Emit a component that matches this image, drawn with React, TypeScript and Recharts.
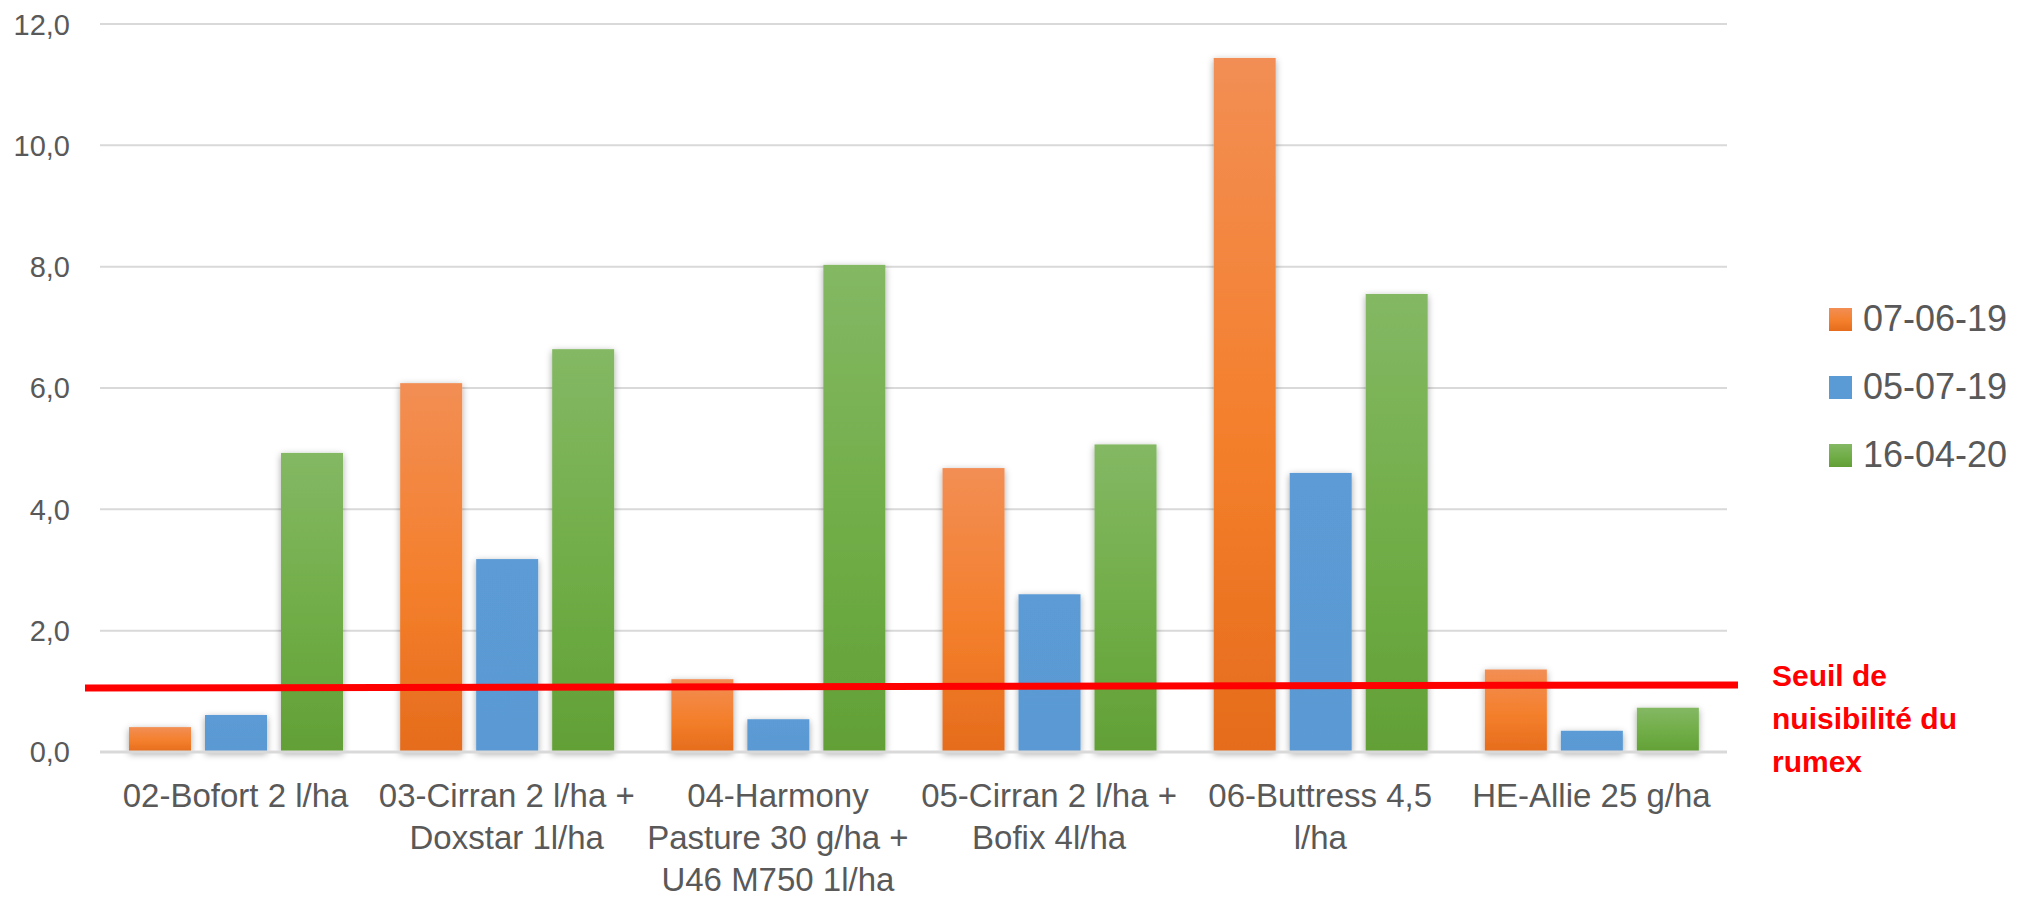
import React from 'react';
import { BarChart, Bar, XAxis, YAxis, CartesianGrid, Legend, ReferenceLine } from 'recharts';

const categories = [
  '02-Bofort 2 l/ha',
  '03-Cirran 2 l/ha + Doxstar 1l/ha',
  '04-Harmony Pasture 30 g/ha + U46 M750 1l/ha',
  '05-Cirran 2 l/ha + Bofix 4l/ha',
  '06-Buttress 4,5 l/ha',
  'HE-Allie 25 g/ha',
];
const tickLines = [
  ['02-Bofort 2 l/ha'],
  ['03-Cirran 2 l/ha +', 'Doxstar 1l/ha'],
  ['04-Harmony', 'Pasture 30 g/ha +', 'U46 M750 1l/ha'],
  ['05-Cirran 2 l/ha +', 'Bofix 4l/ha'],
  ['06-Buttress 4,5', 'l/ha'],
  ['HE-Allie 25 g/ha'],
];
const seriesNames = ['07-06-19', '05-07-19', '16-04-20'];
const s070619 = [0.41, 6.08, 1.2, 4.68, 11.44, 1.36];
const s050719 = [0.61, 3.18, 0.54, 2.6, 4.6, 0.35];
const s160420 = [4.93, 6.64, 8.03, 5.07, 7.55, 0.73];
const yTicks = [0, 2, 4, 6, 8, 10, 12];
const threshold = 1.08;
const thresholdLabel = ['Seuil de', 'nuisibilité du', 'rumex'];

const data = categories.map((c, i) => ({
  name: c,
  a: s070619[i],
  b: s050719[i],
  c: s160420[i],
}));

const FONT = '"Liberation Sans", Arial, sans-serif';
const TEXT = '#595959';

const gradIds = ['gOrange', 'gBlue', 'gGreen'];
const legendCss = [
  'linear-gradient(#F28E54, #F47F2C 55%, #E56C1C)',
  '#5B9BD5',
  'linear-gradient(#84B864, #70AD47 55%, #62A036)',
];

const XTick = (props: any) => {
  const { x, y, payload } = props;
  const idx = categories.indexOf(payload.value);
  const lines = tickLines[idx] || [payload.value];
  return (
    <g>
      {lines.map((l, i) => (
        <text
          key={i}
          x={x}
          y={y + 55 + i * 42}
          textAnchor="middle"
          fill={TEXT}
          fontSize={33}
          fontFamily={FONT}
        >
          {l}
        </text>
      ))}
    </g>
  );
};

const BarShape = (props: any) => {
  const { x, y, width, height, fill } = props;
  if (!height || height <= 0) return null;
  return <rect x={x} y={y} width={width} height={height} fill={fill} filter="url(#barShadow)" />;
};

const ThresholdShape = (props: any) => {
  const { x1, y1, x2, y2 } = props;
  return (
    <g>
      <line x1={x1 - 15} y1={y1 + 1.5} x2={x2 + 11} y2={y2 - 1.5} stroke="#FF0000" strokeWidth={7} />
      {thresholdLabel.map((t, i) => (
        <text
          key={i}
          x={x2 + 45}
          y={y2 + i * 43}
          fill="#FF0000"
          fontWeight="bold"
          fontSize={30}
          fontFamily={FONT}
        >
          {t}
        </text>
      ))}
    </g>
  );
};

const LegendContent = () => (
  <div style={{ fontFamily: FONT }}>
    {seriesNames.map((n, i) => (
      <div key={n} style={{ display: 'flex', alignItems: 'center', height: 68 }}>
        <div style={{ width: 23, height: 23, background: legendCss[i], marginRight: 11 }} />
        <span style={{ fontSize: 36, color: TEXT, lineHeight: '36px' }}>{n}</span>
      </div>
    ))}
  </div>
);

export default function App() {
  return (
    <BarChart
      width={2020}
      height={891}
      data={data}
      margin={{ top: 16, right: 101, bottom: 0, left: 22 }}
      barCategoryGap="10.7%"
      barGap={14}
    >
      <defs>
        <linearGradient id="gOrange" x1="0" y1="0" x2="0" y2="1">
          <stop offset="0%" stopColor="#F28E54" />
          <stop offset="55%" stopColor="#F47F2C" />
          <stop offset="100%" stopColor="#E56C1C" />
        </linearGradient>
        <linearGradient id="gBlue" x1="0" y1="0" x2="0" y2="1">
          <stop offset="0%" stopColor="#5B9BD5" />
          <stop offset="100%" stopColor="#5A99D3" />
        </linearGradient>
        <linearGradient id="gGreen" x1="0" y1="0" x2="0" y2="1">
          <stop offset="0%" stopColor="#84B864" />
          <stop offset="55%" stopColor="#70AD47" />
          <stop offset="100%" stopColor="#62A036" />
        </linearGradient>
        <filter id="barShadow" x="-50%" y="-50%" width="200%" height="200%">
          <feDropShadow dx="0" dy="2" stdDeviation="3.5" floodColor="#000" floodOpacity="0.35" />
        </filter>
      </defs>
      <CartesianGrid vertical={false} stroke="#D9D9D9" strokeWidth={2} />
      <XAxis
        dataKey="name"
        height={147}
        tickLine={false}
        tickSize={0}
        tickMargin={0}
        axisLine={{ stroke: '#D9D9D9', strokeWidth: 3 }}
        tick={<XTick />}
        interval={0}
      />
      <YAxis
        width={70}
        domain={[0, 12]}
        ticks={yTicks}
        tickLine={false}
        axisLine={false}
        tickSize={0}
        tickMargin={30}
        tickFormatter={(v: number) => v.toFixed(1).replace('.', ',')}
        tick={{ fill: TEXT, fontSize: 29, fontFamily: FONT }}
      />
      <Legend
        layout="vertical"
        align="right"
        verticalAlign="top"
        content={<LegendContent />}
        wrapperStyle={{ position: 'absolute', left: 1821, top: 277, width: 200 }}
      />
      <Bar dataKey="a" name={seriesNames[0]} fill={`url(#${gradIds[0]})`} shape={<BarShape />} isAnimationActive={false} />
      <Bar dataKey="b" name={seriesNames[1]} fill={`url(#${gradIds[1]})`} shape={<BarShape />} isAnimationActive={false} />
      <Bar dataKey="c" name={seriesNames[2]} fill={`url(#${gradIds[2]})`} shape={<BarShape />} isAnimationActive={false} />
      <ReferenceLine y={threshold} shape={<ThresholdShape />} ifOverflow="visible" />
    </BarChart>
  );
}
